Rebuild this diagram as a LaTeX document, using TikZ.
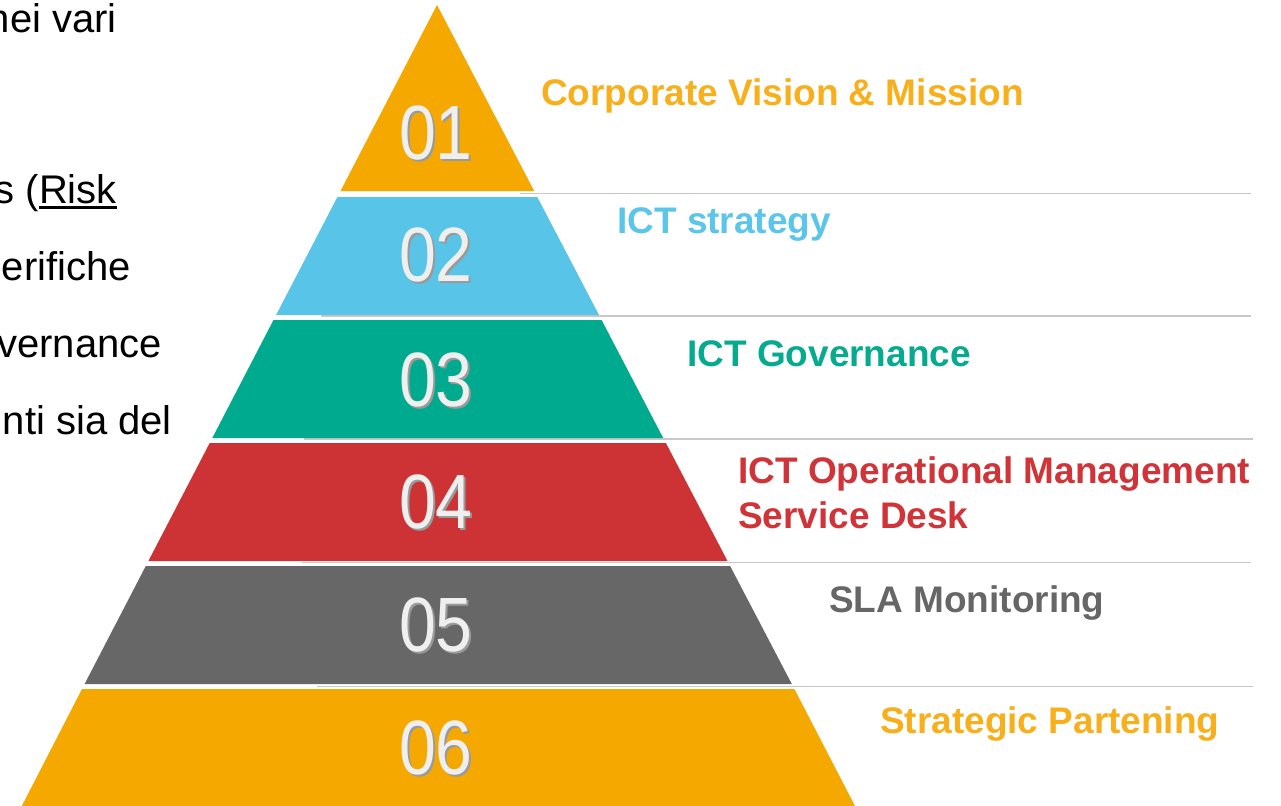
\documentclass[tikz,border=0pt]{standalone}
\usepackage{fontspec}
\setmainfont{Liberation Sans}
\definecolor{pyorange}{HTML}{F5A900}
\definecolor{pyblue}{HTML}{57C4E8}
\definecolor{pygreen}{HTML}{00AA8E}
\definecolor{pyred}{HTML}{CD3335}
\definecolor{pygray}{HTML}{676767}
\definecolor{txorange}{HTML}{F7B01C}
\definecolor{txblue}{HTML}{5BC5EA}
\definecolor{txgreen}{HTML}{06AA8E}
\definecolor{txred}{HTML}{D03438}
\definecolor{txgray}{HTML}{666666}
\definecolor{sepline}{HTML}{C8C8C8}
\definecolor{numface}{HTML}{EFEFEF}
\definecolor{numshade}{HTML}{9A9A9A}
\newcommand\myul[1]{\setbox0\hbox{#1}\rlap{\rule[-5.5pt]{\wd0}{2.8pt}}#1}
\tikzset{
  layer/.style={fill=#1, draw=none},
  sep/.style={draw=sepline, line width=1.6pt},
  label/.style={anchor=base west, inner sep=0pt, font=\fontsize{37}{44}\selectfont\bfseries, text=#1},
  bodytext/.style={anchor=base east, inner sep=0pt, font=\fontsize{40}{48}\selectfont, text=black},
  numshadow/.style={inner sep=0pt, xscale=0.86, font=\fontsize{77}{80}\selectfont, text=numshade},
  numtext/.style={inner sep=0pt, xscale=0.86, font=\fontsize{77}{80}\selectfont, text=numface}
}
\begin{document}
\begin{tikzpicture}[x=1pt,y=-1pt]
\useasboundingbox (0,0) rectangle (1281,805);
\begin{scope}
\clip (0,0) rectangle (1281,805);
% left body text (clipped at the left edge)
\node[bodytext] (t1) at (117,33) {nei vari};
\node[bodytext] (t2) at (117,203) {s (\myul{Risk}};
\node[bodytext] (t3) at (131,280) {erifiche};
\node[bodytext] (t4) at (162,357) {vernance};
\node[bodytext] (t5) at (172,434) {nti sia del};
% separator lines
\coordinate (s1a) at (520,193.5);   \coordinate (s1b) at (1251,193.5);
\coordinate (s2a) at (321,316);     \coordinate (s2b) at (1251,316);
\coordinate (s3a) at (304,439);     \coordinate (s3b) at (1253,439);
\coordinate (s4a) at (302,562.5);   \coordinate (s4b) at (1251,562.5);
\coordinate (s5a) at (317,686.5);   \coordinate (s5b) at (1253,686.5);
\draw[sep] (s1a) -- (s1b);
\draw[sep] (s2a) -- (s2b);
\draw[sep] (s3a) -- (s3b);
\draw[sep] (s4a) -- (s4b);
\draw[sep] (s5a) -- (s5b);
% pyramid layers
\fill[layer=pyorange] (437,5) -- (534.2,191) -- (340.5,191) -- cycle;
\fill[layer=pyblue] (337.4,197) -- (537.3,197) -- (599.0,315) -- (276.1,315) -- cycle;
\fill[layer=pygreen] (273.5,320) -- (601.6,320) -- (663.2,438) -- (212.3,438) -- cycle;
\fill[layer=pyred] (209.7,443) -- (665.9,443) -- (727.5,561) -- (148.4,561) -- cycle;
\fill[layer=pygray] (145.8,566) -- (730.1,566) -- (791.8,684) -- (84.6,684) -- cycle;
\fill[layer=pyorange] (82.0,689) -- (794.4,689) -- (855.0,806) -- (21.8,806) -- cycle;
% numbers
\foreach \n/\y in {01/133,02/255,03/380,04/502,05/625,06/748}{
  \node[numshadow] (ns\n) at (438,\y+1.5) {\n};
  \node[numtext] (n\n) at (436,\y) {\n};
}
% labels
\node[label=txorange] (l1) at (541,106) {Corporate Vision \& Mission};
\node[label=txblue] (l2) at (617,233) {ICT strategy};
\node[label=txgreen] (l3) at (687,366) {ICT Governance};
\node[label=txred] (l4) at (738,483) {ICT Operational Management};
\node[label=txred] (l4b) at (738,528) {Service Desk};
\node[label=txgray] (l5) at (829,612) {SLA Monitoring};
\node[label=txorange] (l6) at (880,733) {Strategic Partening};
\end{scope}
\end{tikzpicture}
\end{document}
